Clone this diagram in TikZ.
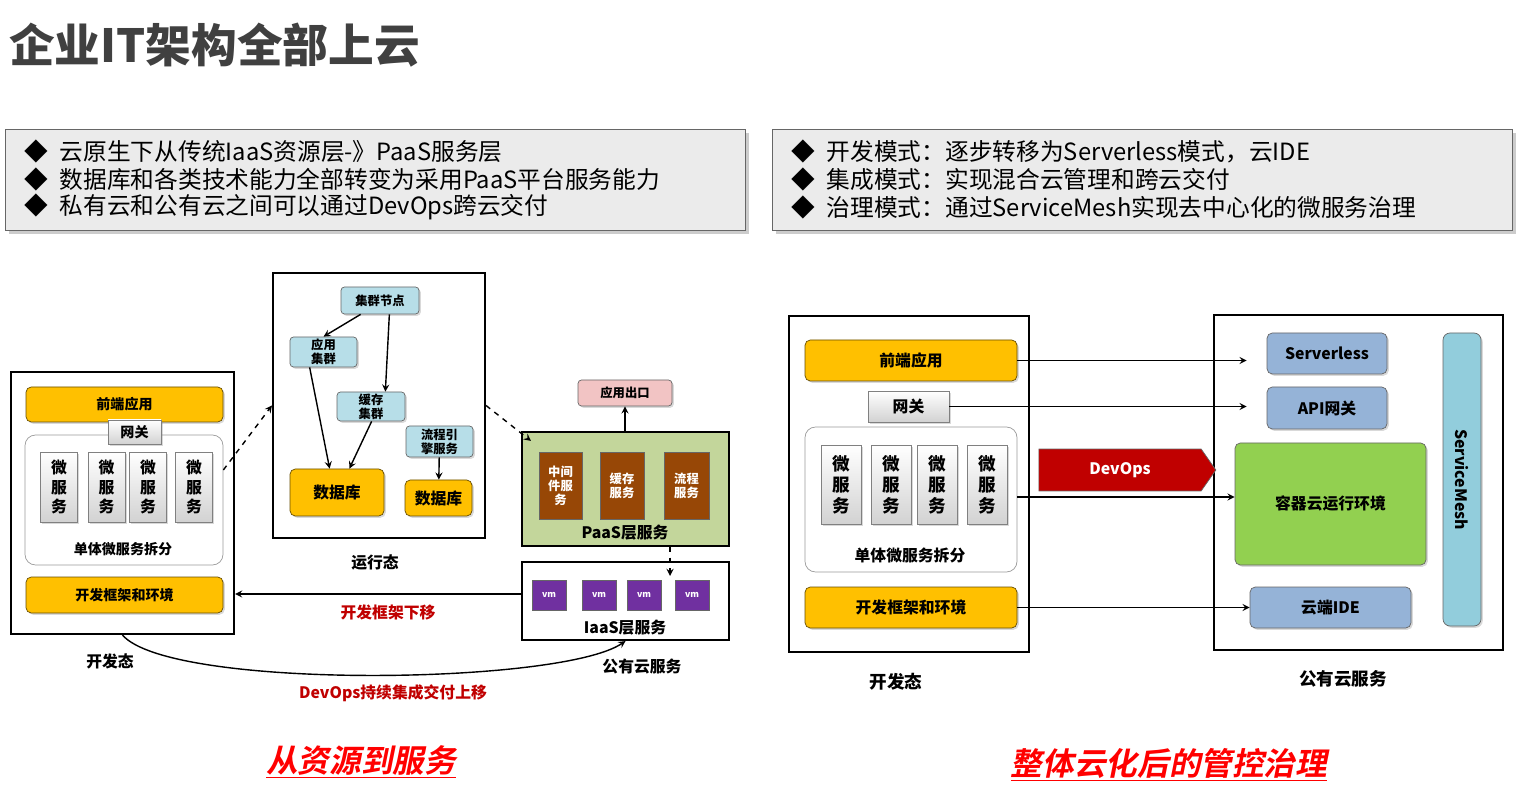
\documentclass[tikz,border=0pt]{standalone}
\usepackage{fontspec}
\setmainfont{Noto Sans CJK SC}
\newfontfamily\capfont{Noto Sans CJK SC Bold}[FakeSlant=0.2]
\usepackage{tikz}
\usetikzlibrary{fit, shadows, shapes.arrows, positioning}
\definecolor{boxyellow}{RGB}{255,192,0}
\definecolor{boxgray}{RGB}{210,210,210}
\definecolor{clusterblue}{RGB}{183,222,232}
\definecolor{cloudblue}{RGB}{149,179,215}
\definecolor{cloudgreen}{RGB}{146,208,80}
\definecolor{meshcyan}{RGB}{146,205,220}
\definecolor{paasgreen}{RGB}{195,214,155}
\definecolor{paasbrown}{RGB}{151,71,6}
\definecolor{vmpurple}{RGB}{112,48,160}
\definecolor{exitpink}{RGB}{242,196,196}
\definecolor{devred}{RGB}{192,0,0}
\definecolor{titlegray}{RGB}{64,64,64}

\begin{document}
\begin{tikzpicture}[
    x=0.02cm, y=-0.02cm,
    sized/.style 2 args={minimum width=#1*0.02cm, minimum height=#2*0.02cm},
    frame/.style={draw=black, very thick, inner sep=0},
    ybox/.style={draw=black!60!boxyellow, fill=boxyellow, rounded corners=3pt, inner sep=0, font=\bfseries\footnotesize, drop shadow={shadow xshift=1pt, shadow yshift=-1pt, opacity=0.3}},
    gbox/.style={draw=black!50, top color=white, bottom color=boxgray, inner sep=0, font=\bfseries\footnotesize, drop shadow={shadow xshift=1pt, shadow yshift=-1pt, opacity=0.3}},
    wbox/.style={draw=black!40, fill=white, rounded corners=6pt, inner sep=0},
    cbox/.style={draw=black!60, fill=clusterblue, rounded corners=2pt, inner sep=0, align=center, font=\bfseries\scriptsize, drop shadow={shadow xshift=1pt, shadow yshift=-1pt, opacity=0.3}},
    bbox/.style={draw=black!60, fill=cloudblue, rounded corners=3pt, inner sep=0, font=\bfseries\small, drop shadow={shadow xshift=1pt, shadow yshift=-1pt, opacity=0.3}},
    pbox/.style={draw=black!60, fill=paasbrown, text=white, inner sep=0, align=center, font=\bfseries\scriptsize},
    vmbox/.style={draw=black!60, fill=vmpurple, text=white, inner sep=0, font=\bfseries\tiny},
    head/.style={draw=black!60, fill=black!8, inner sep=0, drop shadow={shadow xshift=2pt, shadow yshift=-2pt, opacity=0.4}},
    arrow/.style={->, thick, >=stealth},
    dasharrow/.style={->, thick, dashed, >=stealth},
    label/.style={font=\bfseries\small},
    redlabel/.style={font=\bfseries\small, text=devred},
    caption/.style={font=\capfont\fontsize{18}{20}\selectfont, text=red}
]
    \useasboundingbox (0,0) rectangle (1521,793);

    % Title
    \node[anchor=west, font=\bfseries\fontsize{26}{30}\selectfont, text=titlegray] (title) at (3,45) {企业IT架构全部上云};

    % Header boxes
    \node[head, fit={(5,129) (745,230)}] (headL) {};
    \node[head, fit={(772,129) (1512,230)}] (headR) {};
    \foreach \y/\t in {151/云原生下从传统IaaS资源层-》PaaS服务层, 179/数据库和各类技术能力全部转变为采用PaaS平台服务能力, 207/私有云和公有云之间可以通过DevOps跨云交付}
        \node[anchor=west, font=\fontsize{13.5}{15}\selectfont] at (18,\y) {◆\hspace{0.5em}\t};
    \foreach \y/\t in {151/开发模式：逐步转移为Serverless模式，云IDE, 179/集成模式：实现混合云管理和跨云交付, 207/治理模式：通过ServiceMesh实现去中心化的微服务治理}
        \node[anchor=west, font=\fontsize{13.5}{15}\selectfont] at (785,\y) {◆\hspace{0.5em}\t};

    % Left: development state
    \node[frame, fit={(11,372) (234,634)}] (devL) {};
    \node[wbox, fit={(25,435) (223,565)}] (msL) {};
    \node[ybox, sized={197}{35}] (feL) at (124.5,404.5) {前端应用};
    \node[gbox, sized={53}{24}] (gwL) at (134.5,432) {网关};
    \foreach \x [count=\i] in {59, 106.5, 148, 194}
        \node[gbox, sized={37}{70}, align=center, font=\bfseries\small] (svcL\i) at (\x,487) {微\\服\\务};
    \node[label, font=\bfseries\footnotesize] at (123,549) {单体微服务拆分};
    \node[ybox, sized={197}{36}] (fwL) at (124.5,595) {开发框架和环境};
    \node[label] at (110,661) {开发态};

    % Left: runtime state
    \node[frame, fit={(273,273) (485,538)}] (run) {};
    \node[cbox, sized={78}{27}] (node) at (380,300.5) {集群节点};
    \node[cbox, sized={67}{30}] (app) at (323.5,352) {应用\\集群};
    \node[cbox, sized={68}{29}] (cache) at (371,406.5) {缓存\\集群};
    \node[cbox, sized={67}{31}] (flow) at (439.5,441.5) {流程引\\擎服务};
    \node[ybox, sized={94}{47}, font=\bfseries\small] (db1) at (337,492.5) {数据库};
    \node[ybox, sized={67}{36}, font=\bfseries\small] (db2) at (438.5,498) {数据库};
    \node[label] at (375,562) {运行态};
    \draw[arrow] ([xshift=0.4cm]node.south west) -- (app.north);
    \draw[arrow] ([xshift=-0.6cm]node.south east) -- ([xshift=-0.4cm]cache.north east);
    \draw[arrow] ([xshift=0.4cm]app.south west) -- ([xshift=0.8cm]db1.north west);
    \draw[arrow] ([xshift=0.7cm]cache.south west) -- ([xshift=-0.7cm]db1.north east);
    \draw[arrow] (flow) -- (db2);

    % Left: public cloud
    \node[cbox, fill=exitpink, sized={94}{26}] (exit) at (625,393) {应用出口};
    \node[frame, fill=paasgreen, fit={(522,432) (729,546)}] (paas) {};
    \node[pbox, sized={43}{67}] (mid) at (560.5,485.5) {中间\\件服\\务};
    \node[pbox, sized={44}{67}] (cachesvc) at (622,485.5) {缓存\\服务};
    \node[pbox, sized={45}{67}] (flowsvc) at (686.5,485.5) {流程\\服务};
    \node[label] at (625,533) {PaaS层服务};
    \node[frame, fit={(522,562) (729,640)}] (iaas) {};
    \foreach \x [count=\i] in {549, 599, 644, 692}
        \node[vmbox, sized={34}{30}] (vm\i) at (\x,595) {vm};
    \node[label] at (625,628) {IaaS层服务};
    \node[label] at (642,667) {公有云服务};

    % Left: connectors
    \draw[dasharrow] ([yshift=0.6cm]msL.east) -- (run.west);
    \draw[dasharrow] (run.east) -- ([xshift=0.2cm, yshift=-0.2cm]paas.north west);
    \draw[arrow] (paas.north -| exit.south) -- (exit.south);
    \draw[dasharrow] ([xshift=-1.2cm]paas.south east) -- ([xshift=-1.2cm, yshift=-0.3cm]iaas.north east);
    \draw[arrow] (iaas.west |- 0,594) -- (devL.east |- 0,594);
    \node[redlabel] at (388,612) {开发框架下移};
    \draw[arrow] (devL.south) .. controls (170,690) and (560,685) .. (iaas.south);
    \node[redlabel] at (393,693) {DevOps持续集成交付上移};
    \node[caption] at (361,762) {\underline{从资源到服务}};

    % Right: development state
    \node[frame, fit={(789,316) (1029,652)}] (devR) {};
    \node[wbox, fit={(805,427) (1017,572)}] (msR) {};
    \node[ybox, sized={212}{41}, font=\bfseries\small] (feR) at (911,360.5) {前端应用};
    \node[gbox, sized={81}{31}, font=\bfseries\small] (gwR) at (908.5,406.5) {网关};
    \foreach \x [count=\i] in {841, 891, 937, 987}
        \node[gbox, sized={40}{79}, align=center, font=\bfseries\normalsize] (svcR\i) at (\x,484.5) {微\\服\\务};
    \node[label] at (910,556) {单体微服务拆分};
    \node[ybox, sized={212}{41}, font=\bfseries\small] (fwR) at (911,607.5) {开发框架和环境};
    \node[label, font=\bfseries\normalsize] at (896,682) {开发态};

    % Right: public cloud
    \node[frame, fit={(1214,315) (1503,650)}] (cloud) {};
    \node[bbox, sized={120}{41}] (srvless) at (1327,353.5) {Serverless};
    \node[bbox, sized={120}{42}] (api) at (1327,408) {API网关};
    \node[bbox, fill=cloudgreen, sized={191}{122}] (container) at (1330.5,504) {容器云运行环境};
    \node[bbox, sized={161}{41}] (ide) at (1330.5,607.5) {云端IDE};
    \node[bbox, fill=meshcyan, rounded corners=4pt, sized={38}{293}] (mesh) at (1462,479.5) {};
    \node[rotate=-90, font=\bfseries\small] at (mesh) {ServiceMesh};
    \node[label, font=\bfseries\normalsize] at (1343,679) {公有云服务};
    \node[single arrow, draw=black!60, fill=devred, text=white, font=\bfseries\small,
          minimum height=3.54cm, minimum width=0.84cm, single arrow head extend=0pt,
          single arrow tip angle=110, inner sep=1pt] (devops) at (1120,470) {DevOps};

    % Right: connectors
    \draw[arrow] (feR.east) -- ([xshift=-0.4cm]srvless.west |- feR.east);
    \draw[arrow] (gwR.east) -- ([xshift=-0.4cm]api.west |- gwR.east);
    \draw[arrow] (msR.east |- 0,497) -- (container.west |- 0,497);
    \draw[arrow] (fwR.east) -- (ide.west |- fwR.east);
    \node[caption] at (1169,765) {\underline{整体云化后的管控治理}};
\end{tikzpicture}
\end{document}
